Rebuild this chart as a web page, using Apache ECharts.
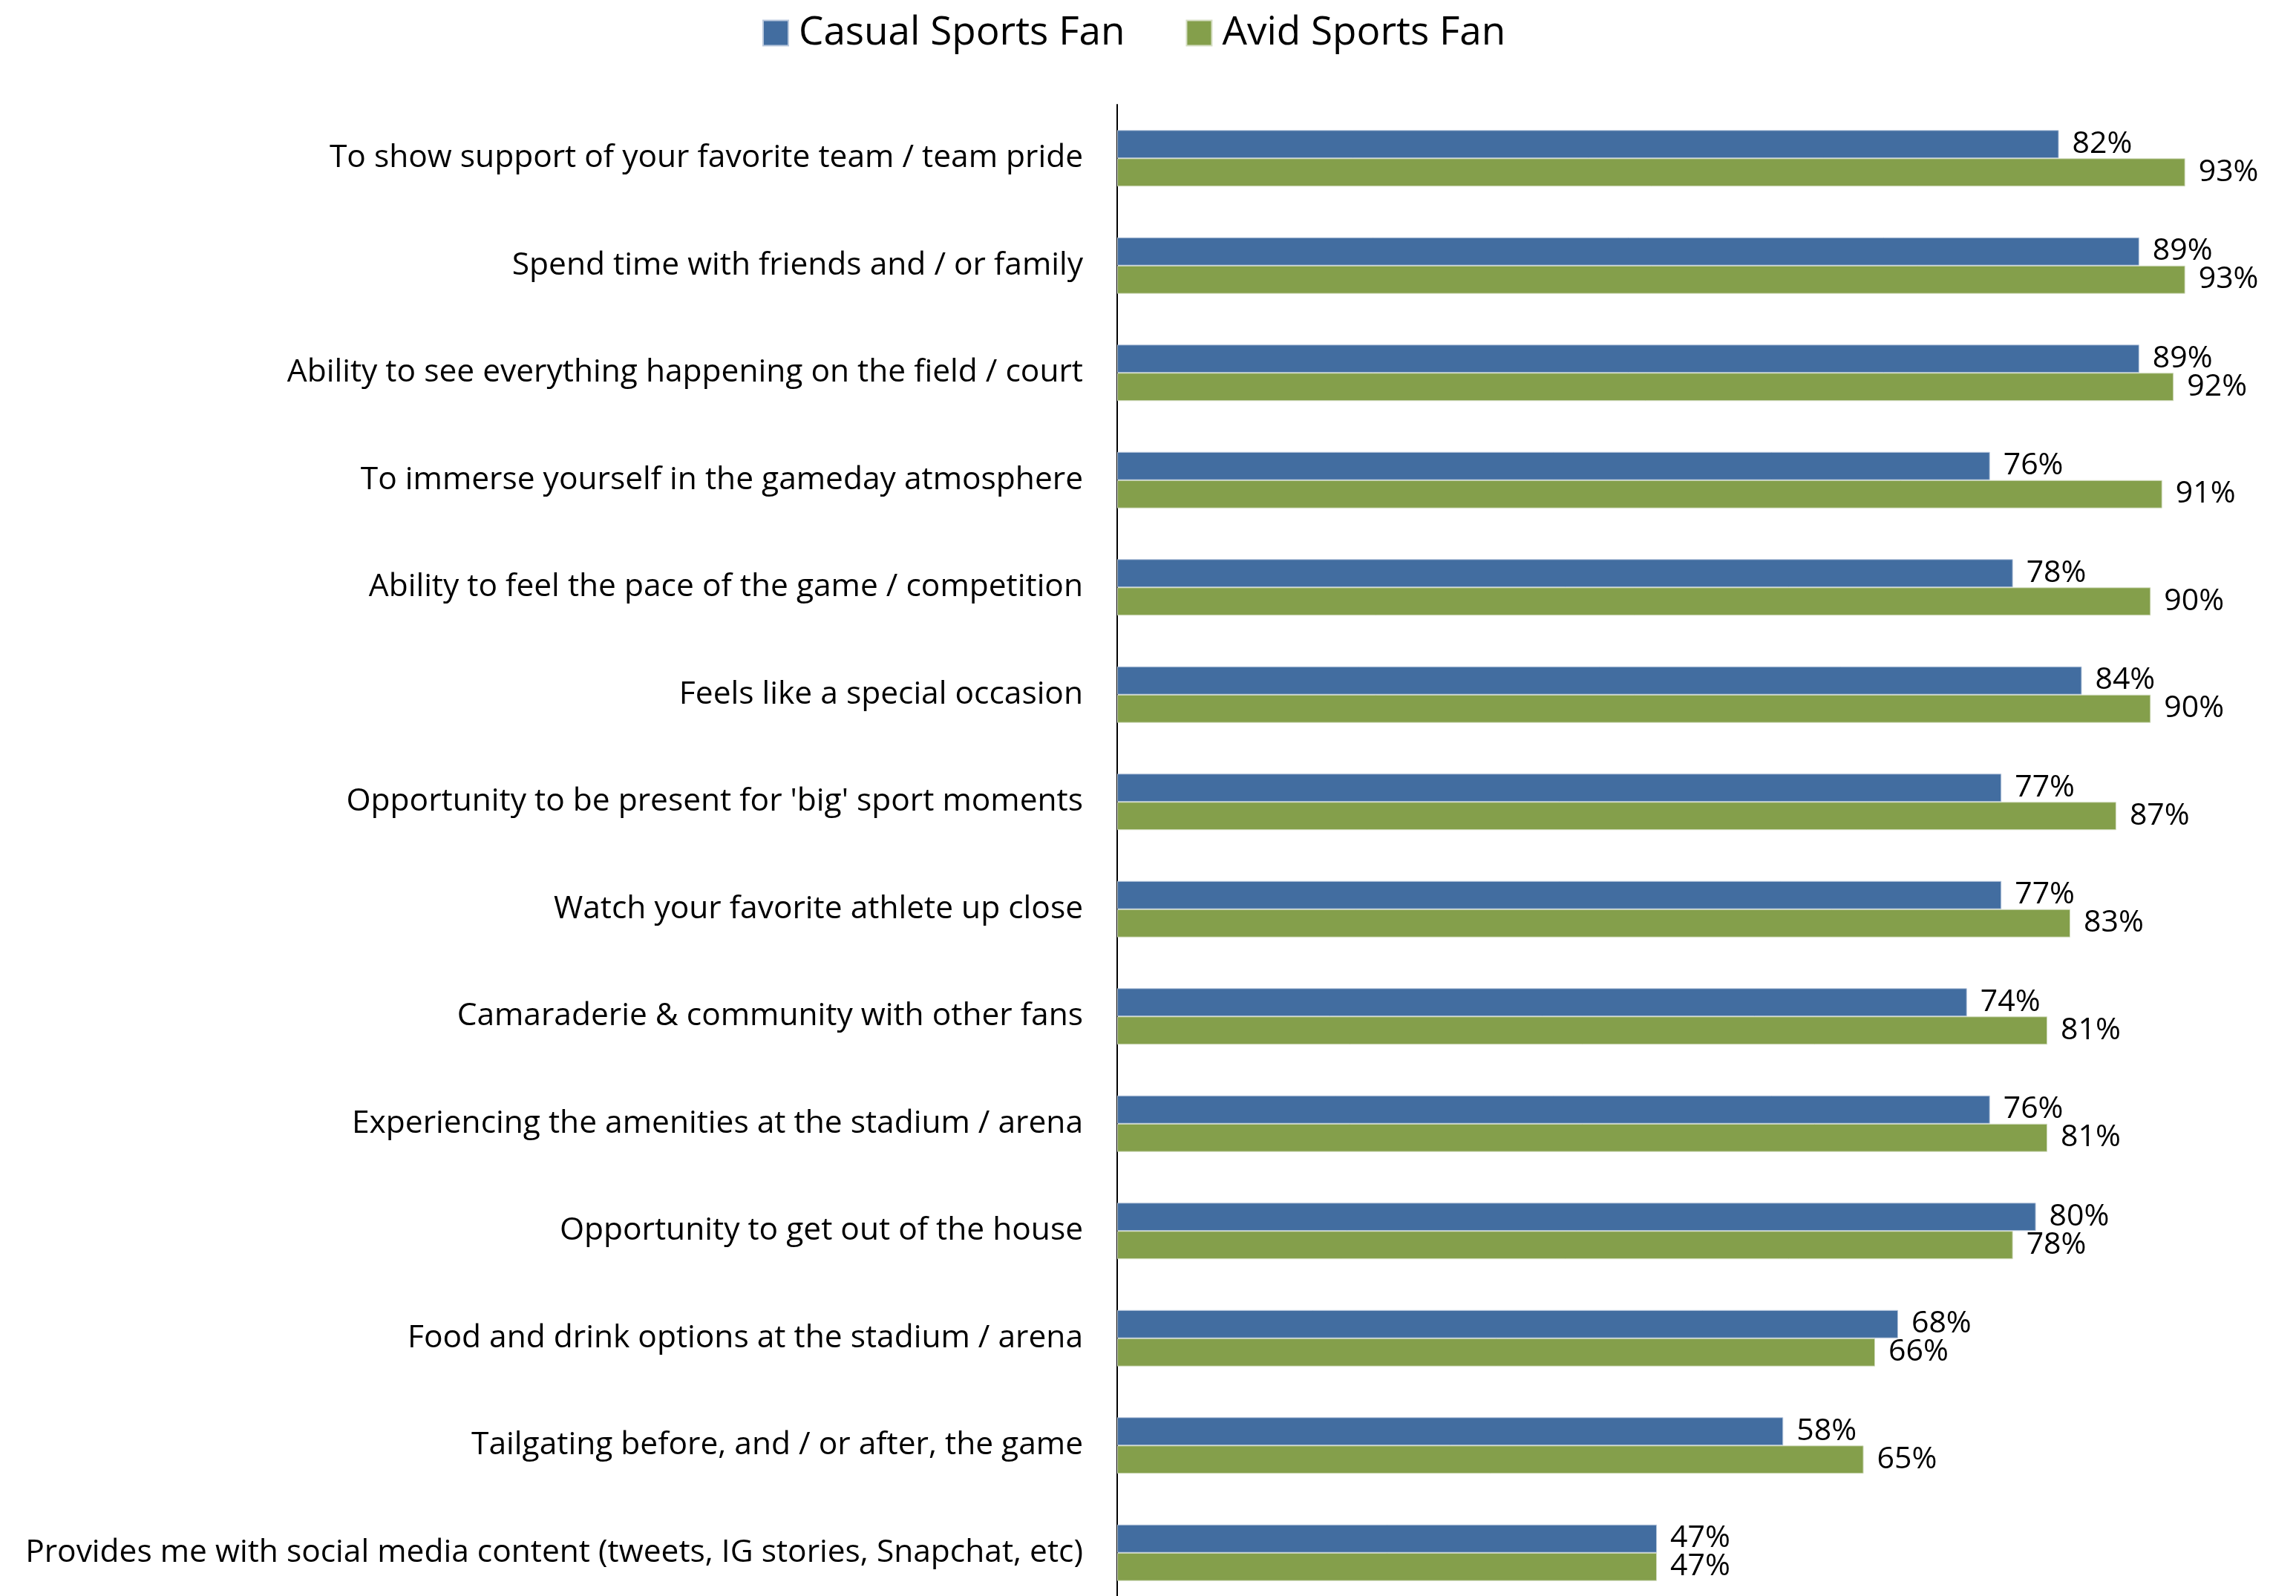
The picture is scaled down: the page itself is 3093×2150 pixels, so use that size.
<!DOCTYPE html>
<html>
<head>
<meta charset="utf-8">
<script src="https://cdn.jsdelivr.net/npm/echarts@6/dist/echarts.min.js"></script>
<style>html,body{margin:0;padding:0;background:#fff}#c{width:3093px;height:2150px}</style>
</head>
<body>
<div id="c"></div>
<script>
const categories = [
  "To show support of your favorite team / team pride",
  "Spend time with friends and / or family",
  "Ability to see everything happening on the field / court",
  "To immerse yourself in the gameday atmosphere",
  "Ability to feel the pace of the game / competition",
  "Feels like a special occasion",
  "Opportunity to be present for 'big' sport moments",
  "Watch your favorite athlete up close",
  "Camaraderie & community with other fans",
  "Experiencing the amenities at the stadium / arena",
  "Opportunity to get out of the house",
  "Food and drink options at the stadium / arena",
  "Tailgating before, and / or after, the game",
  "Provides me with social media content (tweets, IG stories, Snapchat, etc)"
];
const casualFan = [82, 89, 89, 76, 78, 84, 77, 77, 74, 76, 80, 68, 58, 47];
const avidFan = [93, 93, 92, 91, 90, 90, 87, 83, 81, 81, 78, 66, 65, 47];
const seriesNames = ["Casual Sports Fan", "Avid Sports Fan"];

const FONT = "Open Sans";
const chart = echarts.init(document.getElementById('c'));
const labelCfg = {
  show: true, position: 'right', distance: 18,
  formatter: '{c}%', color: '#000', fontSize: 41, fontFamily: FONT
};
chart.setOption({
  animation: false,
  textStyle: { fontFamily: FONT },
  legend: {
    top: 13, left: 1022,
    itemWidth: 34, itemHeight: 34, itemGap: 82,
    icon: 'rect',
    textStyle: { fontSize: 53, color: '#000', fontFamily: FONT, padding: [0, 0, 0, 9] },
    data: seriesNames
  },
  grid: { left: 1505, right: 41, top: 141, height: 2023, containLabel: false, outerBoundsMode: 'none' },
  xAxis: {
    type: 'value', min: 0, max: 100, show: false
  },
  yAxis: {
    type: 'category', data: categories, inverse: true,
    axisLine: { show: true, lineStyle: { color: '#000', width: 2 } },
    axisTick: { show: false },
    axisLabel: { fontSize: 42.5, color: '#000', fontFamily: FONT, margin: 46 }
  },
  series: [
    {
      name: seriesNames[0], type: 'bar', data: casualFan,
      barWidth: 38, barGap: '0%',
      itemStyle: { color: '#426DA0', borderColor: '#B9C8DD', borderWidth: 1 },
      label: labelCfg
    },
    {
      name: seriesNames[1], type: 'bar', data: avidFan,
      barWidth: 38, barGap: '0%',
      itemStyle: { color: '#849F4B', borderColor: '#D5DEC3', borderWidth: 1 },
      label: labelCfg
    }
  ]
});
</script>
</body>
</html>
